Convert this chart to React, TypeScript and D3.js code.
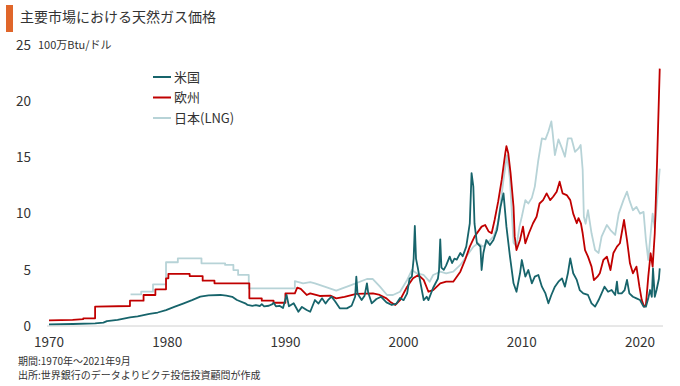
import React from 'react';
import * as d3 from 'd3';

// [年, 100万Btu当たりドル]
const usPrices: [number, number][] = [
  [1970.0, 0.15], [1972.0, 0.18], [1973.9, 0.24], [1974.6, 0.3], [1974.9, 0.44],
  [1975.8, 0.55], [1976.85, 0.77], [1977.5, 0.85], [1978.5, 1.07], [1979.2, 1.2],
  [1979.9, 1.42], [1980.6, 1.7], [1981.4, 2.02], [1982.1, 2.3], [1982.8, 2.61],
  [1983.5, 2.72], [1984.5, 2.76], [1985.0, 2.7], [1985.5, 2.6], [1985.9, 2.31],
  [1986.6, 2.02], [1986.8, 1.87], [1987.2, 1.8], [1987.5, 1.85], [1987.85, 1.78],
  [1988.0, 1.95], [1988.2, 1.75], [1988.6, 1.8], [1988.9, 1.95], [1989.0, 2.07],
  [1989.2, 1.75], [1989.5, 1.8], [1989.8, 1.6], [1990.1, 2.76], [1990.3, 1.75],
  [1990.7, 2.02], [1991.1, 1.27], [1991.4, 1.7], [1991.8, 1.42], [1992.1, 1.27],
  [1992.5, 2.31], [1992.8, 2.0], [1993.1, 2.46], [1993.4, 2.0], [1993.6, 2.3],
  [1993.9, 2.61], [1994.2, 2.2], [1994.6, 1.57], [1995.2, 1.57], [1995.6, 1.8],
  [1995.9, 2.6], [1996.0, 4.39], [1996.1, 2.9], [1996.45, 2.31], [1996.7, 2.7],
  [1996.9, 3.8], [1997.0, 3.0], [1997.3, 2.02], [1997.7, 2.4], [1998.1, 2.6],
  [1998.55, 2.1], [1999.0, 1.87], [1999.4, 2.0], [1999.7, 2.5], [2000.0, 2.3],
  [2000.3, 2.9], [2000.5, 4.2], [2000.7, 4.39], [2000.85, 6.0], [2000.95, 8.9],
  [2001.05, 6.0], [2001.2, 5.2], [2001.4, 4.0], [2001.7, 2.31], [2001.95, 2.6],
  [2002.1, 2.3], [2002.5, 3.4], [2002.9, 4.2], [2003.0, 5.0], [2003.1, 7.71],
  [2003.2, 5.2], [2003.4, 5.0], [2003.6, 5.4], [2003.9, 6.17], [2004.1, 5.6],
  [2004.3, 6.0], [2004.5, 5.9], [2004.8, 6.5], [2005.0, 6.2], [2005.3, 7.06],
  [2005.6, 9.14], [2005.75, 13.6], [2005.9, 12.4], [2006.0, 9.1], [2006.2, 7.4],
  [2006.5, 7.06], [2006.6, 4.98], [2006.75, 6.5], [2006.9, 7.2], [2007.0, 7.65],
  [2007.3, 7.2], [2007.6, 7.65], [2007.9, 8.54], [2008.2, 10.6], [2008.45, 11.8],
  [2008.7, 8.84], [2009.0, 6.17], [2009.3, 3.8], [2009.55, 3.05], [2009.85, 4.69],
  [2010.0, 5.87], [2010.3, 4.39], [2010.55, 4.98], [2010.85, 3.8], [2011.1, 4.39],
  [2011.4, 4.54], [2011.7, 3.5], [2012.0, 2.9], [2012.25, 2.02], [2012.5, 2.76],
  [2012.8, 3.5], [2013.1, 3.94], [2013.4, 4.24], [2013.65, 3.5], [2013.9, 4.69],
  [2014.1, 6.02], [2014.35, 4.69], [2014.65, 4.1], [2014.9, 3.2], [2015.2, 2.9],
  [2015.6, 2.76], [2015.9, 2.02], [2016.2, 1.72], [2016.5, 2.31], [2016.75, 2.9],
  [2017.0, 3.5], [2017.3, 3.05], [2017.6, 3.2], [2017.9, 2.76], [2018.05, 3.94],
  [2018.15, 2.9], [2018.45, 2.9], [2018.7, 3.2], [2018.9, 4.1], [2019.1, 2.9],
  [2019.4, 2.6], [2019.7, 2.46], [2020.0, 2.31], [2020.3, 1.72], [2020.5, 1.72],
  [2020.7, 2.46], [2020.85, 3.2], [2021.0, 2.6], [2021.1, 5.13], [2021.25, 2.6],
  [2021.4, 3.2], [2021.6, 4.2], [2021.67, 5.13],
];

const euPrices: [number, number][] = [
  [1970.0, 0.5], [1972.0, 0.55], [1972.9, 0.62], [1972.9, 0.68], [1973.9, 0.68],
  [1973.9, 1.72], [1976.85, 1.78], [1976.85, 2.25], [1978.0, 2.25], [1978.0, 2.76],
  [1979.0, 2.76], [1979.0, 3.26], [1979.9, 3.26], [1979.9, 4.24], [1980.1, 4.24],
  [1980.1, 4.63], [1981.9, 4.63], [1981.9, 4.44], [1983.0, 4.44], [1983.0, 4.03],
  [1984.0, 4.03], [1984.0, 3.8], [1986.95, 3.8], [1986.95, 2.46], [1988.0, 2.46],
  [1988.0, 2.25], [1989.0, 2.25], [1989.0, 2.07], [1990.0, 2.07], [1990.0, 2.9],
  [1990.8, 2.9], [1991.0, 3.41], [1991.3, 3.3], [1991.8, 2.76], [1992.1, 2.9],
  [1992.9, 2.67], [1993.8, 2.7], [1994.3, 2.46], [1995.0, 2.6], [1996.0, 2.85],
  [1997.4, 2.9], [1997.9, 2.8], [1998.55, 2.46], [1998.85, 2.16], [1999.3, 1.87],
  [1999.7, 2.31], [2000.3, 3.5], [2000.8, 4.24], [2001.25, 4.54], [2001.7, 4.1],
  [2002.1, 3.05], [2002.5, 3.2], [2003.1, 3.8], [2003.6, 3.94], [2004.2, 3.94],
  [2004.8, 4.83], [2005.2, 5.87], [2005.6, 7.06], [2006.0, 7.95], [2006.6, 8.84],
  [2006.9, 8.99], [2007.2, 8.4], [2007.45, 8.25], [2007.7, 9.43], [2008.0, 11.06],
  [2008.3, 13.0], [2008.6, 15.36], [2008.7, 16.0], [2008.85, 15.4], [2009.05, 13.6],
  [2009.3, 10.6], [2009.4, 7.95], [2009.55, 6.76], [2009.85, 7.65], [2010.1, 8.84],
  [2010.3, 7.36], [2010.6, 8.25], [2010.95, 9.14], [2011.25, 9.72], [2011.5, 10.9],
  [2011.8, 11.2], [2012.1, 11.8], [2012.4, 11.2], [2012.65, 11.5], [2012.95, 11.95],
  [2013.2, 12.84], [2013.45, 11.8], [2013.8, 11.65], [2014.1, 11.2], [2014.35, 10.0],
  [2014.65, 9.14], [2014.8, 9.6], [2015.0, 9.14], [2015.15, 8.25], [2015.35, 6.76],
  [2015.6, 6.17], [2015.9, 5.28], [2016.1, 4.09], [2016.4, 4.39], [2016.6, 4.69],
  [2016.9, 5.87], [2017.2, 6.17], [2017.5, 4.98], [2017.75, 6.5], [2018.05, 7.06],
  [2018.3, 7.36], [2018.65, 9.43], [2018.9, 7.65], [2019.15, 5.58], [2019.4, 4.69],
  [2019.7, 5.28], [2019.95, 3.5], [2020.15, 2.31], [2020.35, 1.72], [2020.5, 1.87],
  [2020.7, 4.39], [2020.9, 6.47], [2021.07, 5.28], [2021.25, 8.25], [2021.45, 14.77],
  [2021.67, 22.9],
];

const jpPrices: [number, number][] = [
  [1976.9, 2.82], [1977.8, 2.82], [1977.8, 3.05], [1978.8, 3.05], [1978.8, 3.71],
  [1979.9, 3.71], [1979.9, 5.67], [1980.9, 5.67], [1980.9, 6.02], [1982.9, 6.02],
  [1982.9, 5.58], [1984.9, 5.58], [1984.9, 5.43], [1985.6, 5.43], [1985.6, 4.98],
  [1986.0, 4.98], [1986.0, 4.54], [1986.9, 4.54], [1986.9, 3.35], [1990.8, 3.35],
  [1990.8, 4.0], [1991.5, 3.8], [1992.1, 3.9], [1992.5, 3.8], [1993.5, 3.44],
  [1994.3, 3.14], [1995.5, 3.62], [1996.9, 4.18], [1997.4, 4.18], [1998.0, 3.5],
  [1998.6, 2.76], [1999.1, 2.76], [1999.7, 3.05], [2000.3, 4.1], [2000.7, 4.98],
  [2001.1, 4.69], [2001.7, 4.54], [2002.2, 3.94], [2002.5, 4.54], [2003.1, 4.83],
  [2003.6, 4.69], [2004.2, 4.83], [2004.8, 5.43], [2005.3, 6.17], [2005.9, 7.06],
  [2006.3, 7.36], [2006.75, 7.06], [2007.2, 7.5], [2007.6, 7.95], [2008.0, 9.14],
  [2008.45, 13.0], [2008.75, 15.2], [2009.0, 13.0], [2009.3, 7.4], [2009.55, 7.06],
  [2009.8, 8.84], [2010.0, 9.72], [2010.3, 11.2], [2010.55, 10.9], [2010.85, 11.4],
  [2011.1, 12.4], [2011.4, 14.77], [2011.7, 16.7], [2012.0, 16.6], [2012.25, 17.3],
  [2012.5, 18.2], [2012.6, 17.3], [2012.8, 15.2], [2013.1, 16.6], [2013.4, 15.8],
  [2013.65, 15.06], [2013.9, 16.7], [2014.2, 16.7], [2014.5, 15.5], [2014.8, 15.8],
  [2014.98, 16.1], [2015.15, 13.9], [2015.25, 9.72], [2015.4, 9.1], [2015.6, 10.3],
  [2015.9, 8.25], [2016.2, 6.76], [2016.5, 6.5], [2016.75, 7.95], [2017.2, 8.99],
  [2017.5, 8.54], [2017.9, 8.1], [2018.2, 10.0], [2018.6, 11.2], [2018.9, 11.95],
  [2019.1, 11.2], [2019.4, 10.3], [2019.7, 10.6], [2020.0, 10.0], [2020.3, 10.15],
  [2020.5, 7.65], [2020.7, 5.87], [2020.85, 7.65], [2021.07, 10.0], [2021.25, 8.7],
  [2021.45, 11.2], [2021.67, 14.0],
];

const xTicks = [1970, 1980, 1990, 2000, 2010, 2020];
const yTicks = [0, 5, 10, 15, 20, 25];

const series = [
  { name: '日本(LNG)', data: jpPrices, color: '#b7d3d7' },
  { name: '欧州', data: euPrices, color: '#c00000' },
  { name: '米国', data: usPrices, color: '#17646b' },
];
const legendOrder = ['米国', '欧州', '日本(LNG)'];

const width = 680;
const height = 386;
const font = '"Noto Sans CJK JP", "Noto Sans", sans-serif';

export default function App() {
  const x = d3.scaleLinear().domain([1970, 2020]).range([49, 640]);
  const y = d3.scaleLinear().domain([0, 25]).range([326, 45]);
  const line = d3.line<[number, number]>()
    .x(d => x(d[0]))
    .y(d => y(d[1]));

  return (
    <svg width={width} height={height} style={{ position: 'absolute', left: 0, top: 0, background: '#fff' }}
      fontFamily={font}>
      <rect x={6} y={5} width={7} height={27} fill="#e0662a" />
      <text x={20} y={22} fontSize={14} fill="#333">主要市場における天然ガス価格</text>

      <text x={38} y={49} fontSize={11} fill="#333">100万Btu/ドル</text>

      {yTicks.map(t => (
        <text key={t} x={31} y={y(t)} dy="0.36em" textAnchor="end" fontSize={13.5} fill="#333">{t}</text>
      ))}

      <line x1={47} x2={663} y1={y(0)} y2={y(0)} stroke="#d0d0d0" strokeWidth={1} />

      {xTicks.map(t => (
        <text key={t} x={x(t)} y={347} textAnchor="middle" fontSize={13.5} fill="#333">{t}</text>
      ))}

      {series.map(s => (
        <path key={s.name} d={line(s.data) ?? ''} fill="none" stroke={s.color}
          strokeWidth={1.8} strokeLinejoin="round" />
      ))}

      {legendOrder.map((name, i) => {
        const s = series.find(d => d.name === name)!;
        const ly = 77 + i * 20.5;
        return (
          <g key={name}>
            <line x1={153} x2={171} y1={ly} y2={ly} stroke={s.color} strokeWidth={2} />
            <text x={174} y={ly} dy="0.36em" fontSize={13} fill="#333">{name}</text>
          </g>
        );
      })}

      <text x={18} y={365} fontSize={10} fill="#333">期間:1970年～2021年9月</text>
      <text x={18} y={379} fontSize={10} fill="#333">出所:世界銀行のデータよりピクテ投信投資顧問が作成</text>
    </svg>
  );
}
